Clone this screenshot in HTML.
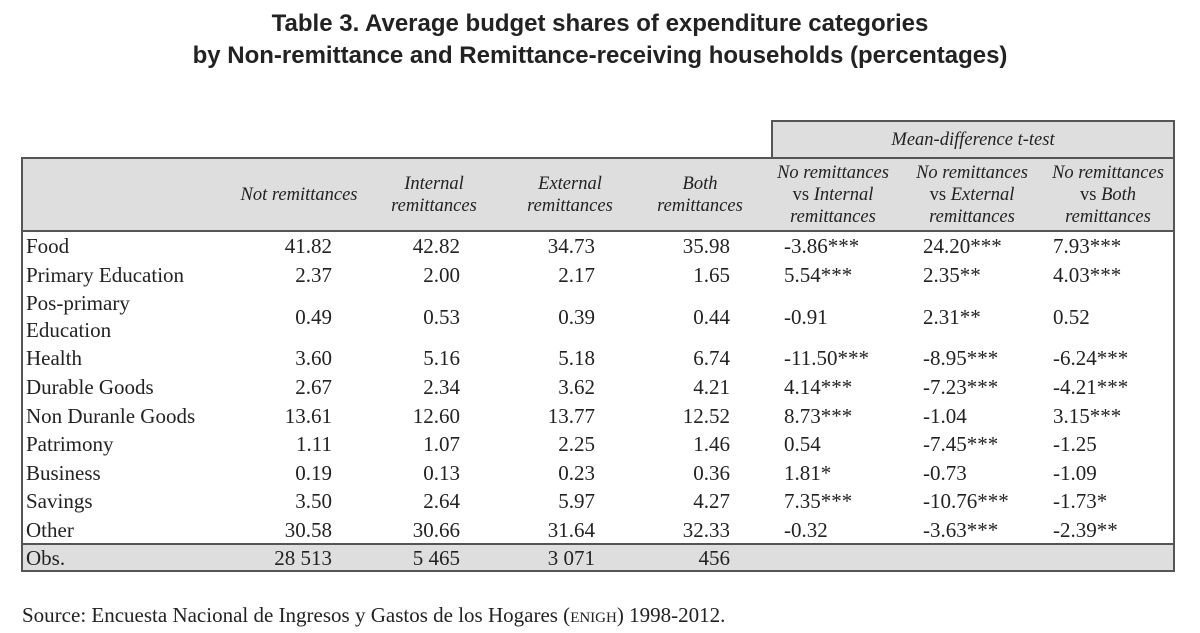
<!DOCTYPE html>
<html><head><meta charset="utf-8">
<style>
html,body{margin:0;padding:0;background:#fff;}
#root{position:relative;width:1200px;height:633px;overflow:hidden;font-family:"Liberation Serif",serif;color:#222;}
.t{position:absolute;white-space:nowrap;}
.title{position:absolute;left:0;width:1200px;text-align:center;font-family:"Liberation Sans",sans-serif;font-weight:bold;font-size:24px;color:#222;}
.c{font-size:21px;line-height:22px;}
.h{font-style:italic;font-size:18.5px;line-height:22px;text-align:center;}
.box{position:absolute;box-sizing:border-box;}
</style></head>
<body>
<div id="root">
<div class="title" style="top:10px">Table 3. Average budget shares of expenditure categories</div>
<div class="title" style="top:42px">by Non-remittance and Remittance-receiving households (percentages)</div>

<div class="box" style="left:771px;top:120px;width:404px;height:39px;background:#dedede;border:2px solid #555;border-bottom:none"></div>
<div class="t h" style="left:771px;top:129px;width:404px">Mean-difference t-test</div>
<div class="box" style="left:21px;top:157px;width:1154px;height:75px;background:#dedede;border:2px solid #555"></div>
<div class="box" style="left:21px;top:157px;width:1154px;height:415px;border:2px solid #555"></div>
<div class="box" style="left:21px;top:543px;width:1154px;height:29px;background:#dedede;border:2px solid #555"></div>

<div class="t" style="left:22px;top:603px;font-size:21px">Source: Encuesta Nacional de Ingresos y Gastos de los Hogares (<span style="font-variant:small-caps">enigh</span>) 1998-2012.</div>
</div>
<script>
const categories=["Food","Primary Education","Pos-primary|Education","Health","Durable Goods","Non Duranle Goods","Patrimony","Business","Savings","Other"];
const notRem=["41.82","2.37","0.49","3.60","2.67","13.61","1.11","0.19","3.50","30.58"];
const internalRem=["42.82","2.00","0.53","5.16","2.34","12.60","1.07","0.13","2.64","30.66"];
const externalRem=["34.73","2.17","0.39","5.18","3.62","13.77","2.25","0.23","5.97","31.64"];
const bothRem=["35.98","1.65","0.44","6.74","4.21","12.52","1.46","0.36","4.27","32.33"];
const tInternal=["-3.86***","5.54***","-0.91","-11.50***","4.14***","8.73***","0.54","1.81*","7.35***","-0.32"];
const tExternal=["24.20***","2.35**","2.31**","-8.95***","-7.23***","-1.04","-7.45***","-0.73","-10.76***","-3.63***"];
const tBoth=["7.93***","4.03***","0.52","-6.24***","-4.21***","3.15***","-1.25","-1.09","-1.73*","-2.39**"];
const obs=["28 513","5 465","3 071","456"];
const headers=["Not remittances","Internal|remittances","External|remittances","Both|remittances","No remittances|vs <i>Internal</i>|remittances","No remittances|vs <i>External</i>|remittances","No remittances|vs <i>Both</i>|remittances"];

const root=document.getElementById('root');
function add(html,cls,style){const d=document.createElement('div');d.className='t '+cls;d.innerHTML=html;d.style.cssText=style;root.appendChild(d);return d;}
const rightEdges=[332,460,595,730];
const centers=[299,434,570,700,833,972,1108];
const tLefts=[784,923,1053];
const rowY=[246,275,303,358,387,416,444,473,501,530];

headers.forEach((h,i)=>{
  const lines=h.split('|');
  const isT=i>=4;
  const txt=lines.map(l=>isT?l.replace(/^vs /,'<span style="font-style:normal">vs </span>'):l).join('<br>');
  const top=195-lines.length*11;
  const d=add(txt,'h','left:'+(centers[i]-80)+'px;width:160px;top:'+top+'px;');
  
  
});

categories.forEach((c,r)=>{
  const y=rowY[r];
  const two=c.includes('|');
  const lab=add(c.split('|').join('<br>'),'c','left:26px;top:'+(two?y-13:y-11)+'px;line-height:'+(two?'27px':'22px')+';');
  
  
  const vy=two?y+14:y;
  [notRem,internalRem,externalRem,bothRem].forEach((arr,i)=>{
    const d=add(arr[r],'c','left:'+(rightEdges[i]-120)+'px;width:120px;text-align:right;top:'+(vy-11)+'px;');
    
    
  });
  [tInternal,tExternal,tBoth].forEach((arr,i)=>{
    const d=add(arr[r],'c','left:'+tLefts[i]+'px;top:'+(vy-11)+'px;');
    
    
  });
});
const ol=add('Obs.','c','left:26px;top:547px;');


obs.forEach((v,i)=>{
  const d=add(v,'c','left:'+(rightEdges[i]-120)+'px;width:120px;text-align:right;top:547px;');
  
  
});
</script>
</body></html>
